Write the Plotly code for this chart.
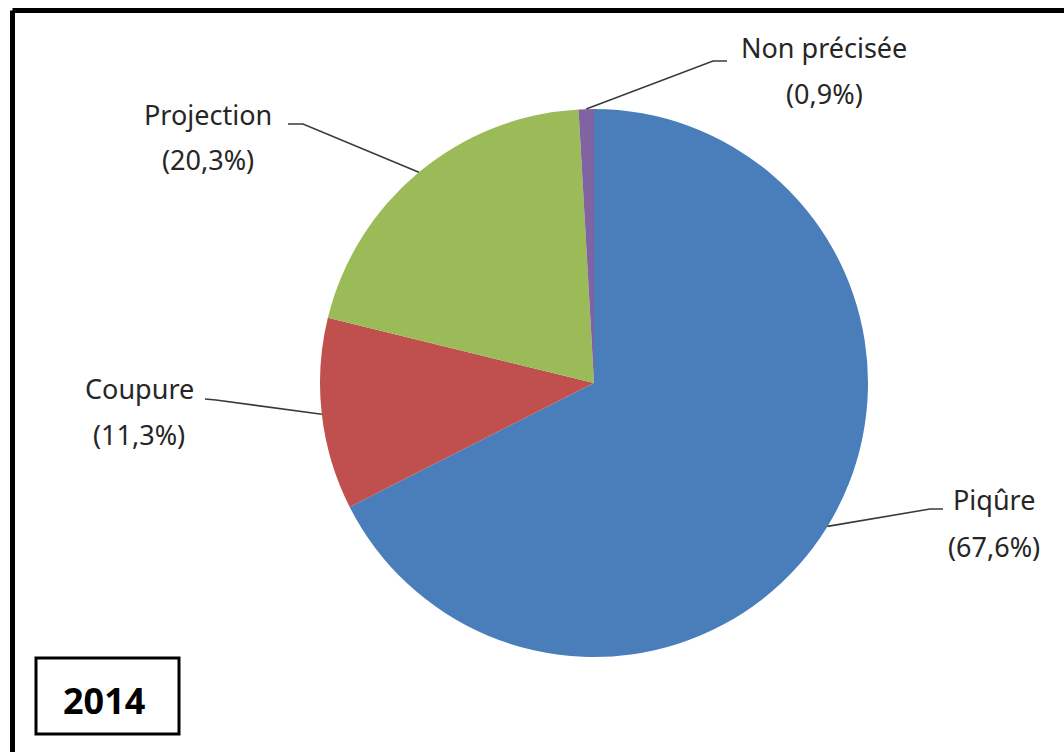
import math
import plotly.graph_objects as go

# ---- data ----
categories = ["Piqûre", "Coupure", "Projection", "Non précisée"]
values = [67.6, 11.3, 20.3, 0.9]
value_labels = ["67,6%", "11,3%", "20,3%", "0,9%"]
colors = ["#4A7EBB", "#C0504D", "#9BBB59", "#8064A2"]
year_label = "2014"

W, H = 1064, 752
CX, CY, R = 594, 383, 274  # pie centre / radius in pixels (layout)

def px(x):
    return x / W

def py(y):
    return 1 - y / H

fig = go.Figure()
fig.add_trace(go.Pie(
    labels=categories,
    values=values,
    sort=False,
    direction="clockwise",
    rotation=0,
    textinfo="none",
    hoverinfo="label+percent",
    marker=dict(colors=colors, line=dict(color="white", width=0)),
    domain=dict(x=[px(CX - R), px(CX + R)], y=[py(CY + R), py(CY - R)]),
    showlegend=False,
))

# label placement (layout): centre x, line-1 y, line-2 y, bend point, stub end
label_layout = {
    "Piqûre":       dict(lx=994, l1=499, l2=546, bend=(930, 509), stub=(943, 509)),
    "Coupure":      dict(lx=139, l1=388, l2=434, bend=(216, 400), stub=(205, 399)),
    "Projection":   dict(lx=208, l1=114, l2=159, bend=(303, 124), stub=(288, 124)),
    "Non précisée": dict(lx=824, l1=47,  l2=93,  bend=(713, 61),  stub=(727, 61)),
}

FONT = "Noto Sans"
shapes = []
annotations = []
total = sum(values)
cum = 0.0
for cat, v, vl in zip(categories, values, value_labels):
    mid = (cum + v / 2) / total * 2 * math.pi
    cum += v
    ex = CX + R * math.sin(mid)
    ey = CY - R * math.cos(mid)
    L = label_layout[cat]
    bx, by = L["bend"]
    sx, sy = L["stub"]
    path = f"M {px(ex)},{py(ey)} L {px(bx)},{py(by)} L {px(sx)},{py(sy)}"
    shapes.append(dict(type="path", xref="paper", yref="paper", path=path,
                       line=dict(color="#3a3a3a", width=1.6)))
    for txt, yy in ((cat, L["l1"]), (f"({vl})", L["l2"])):
        annotations.append(dict(
            x=px(L["lx"]), y=py(yy), xref="paper", yref="paper",
            text=txt, showarrow=False, align="center",
            xanchor="center", yanchor="middle",
            font=dict(family=FONT, size=27, color="#262626"),
        ))

# outer frame (top and left edges visible)
shapes.append(dict(type="line", xref="paper", yref="paper",
                   x0=px(12.5), y0=py(10.5), x1=px(1070), y1=py(10.5),
                   line=dict(color="black", width=5)))
shapes.append(dict(type="line", xref="paper", yref="paper",
                   x0=px(12.5), y0=py(10.5), x1=px(12.5), y1=py(760),
                   line=dict(color="black", width=5)))
# year box
shapes.append(dict(type="rect", xref="paper", yref="paper",
                   x0=px(36), y0=py(734), x1=px(179), y1=py(658),
                   line=dict(color="black", width=3), fillcolor="white"))
annotations.append(dict(
    x=px(104), y=py(700), xref="paper", yref="paper",
    text=f"<b>{year_label}</b>", showarrow=False,
    xanchor="center", yanchor="middle",
    font=dict(family=FONT, size=36, color="black"),
))

fig.update_layout(
    width=W, height=H,
    margin=dict(l=0, r=0, t=0, b=0),
    paper_bgcolor="white",
    plot_bgcolor="white",
    shapes=shapes,
    annotations=annotations,
)

fig.write_html("out.html")
